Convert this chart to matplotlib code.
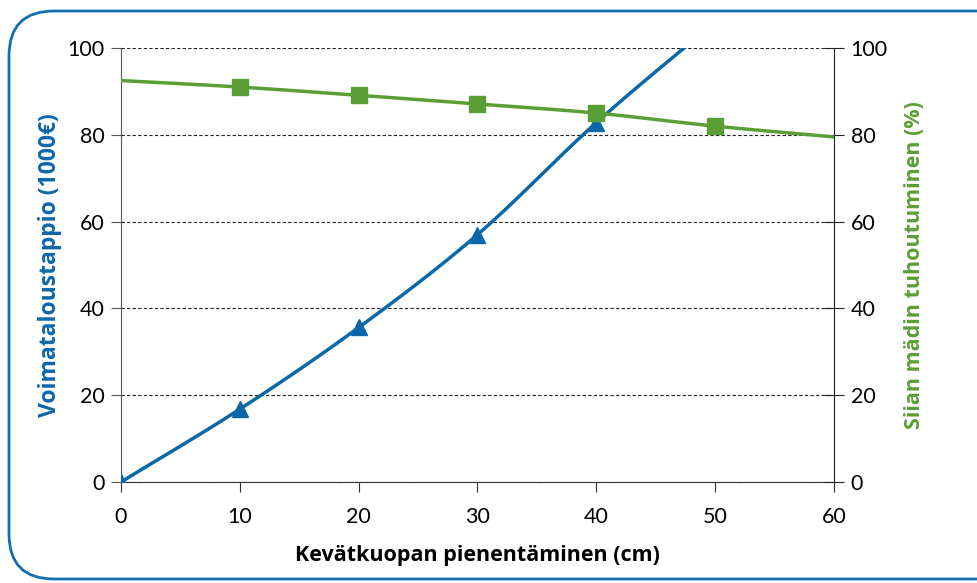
import numpy as np
import matplotlib
matplotlib.use("Agg")
import matplotlib.pyplot as plt
from matplotlib.patches import FancyBboxPatch

plt.rcParams["font.family"] = ["Lato", "DejaVu Sans"]

# Loss in hydropower (1000 EUR) by reduction of the spring drawdown
loss_x = [0, 10, 20, 30, 40, 50]
loss_y = [0, 16.8, 35.6, 57.0, 82.8, 106.0]

# Destruction of whitefish roe (%)
roe_x = [0, 10, 20, 30, 40, 50, 60]
roe_y = [92.5, 91.0, 89.1, 87.1, 85.0, 82.0, 79.5]
roe_marker_x = [10, 20, 30, 40, 50]
roe_marker_y = [91.0, 89.1, 87.1, 85.0, 82.0]

x_ticks = [0, 10, 20, 30, 40, 50, 60]
y_ticks = [0, 20, 40, 60, 80, 100]

BLUE = "#0b67a8"
GREEN = "#5a9f35"
LABEL_FONT = ["Open Sans", "DejaVu Sans"]


def smooth(xs, ys, n=20):
    # Catmull-Rom curve through the points
    xs = np.asarray(xs, float)
    ys = np.asarray(ys, float)
    px = np.concatenate([[2 * xs[0] - xs[1]], xs, [2 * xs[-1] - xs[-2]]])
    py = np.concatenate([[2 * ys[0] - ys[1]], ys, [2 * ys[-1] - ys[-2]]])
    t = np.linspace(0, 1, n, endpoint=False)
    out_x, out_y = [], []
    for i in range(1, len(px) - 2):
        for p, out in ((px, out_x), (py, out_y)):
            p0, p1, p2, p3 = p[i - 1], p[i], p[i + 1], p[i + 2]
            out.extend(0.5 * (2 * p1 + (-p0 + p2) * t
                              + (2 * p0 - 5 * p1 + 4 * p2 - p3) * t ** 2
                              + (-p0 + 3 * p1 - 3 * p2 + p3) * t ** 3))
    out_x.append(xs[-1])
    out_y.append(ys[-1])
    return np.array(out_x), np.array(out_y)


fig = plt.figure(figsize=(9.78, 5.83), dpi=100)

# background layer in pixel units for the rounded frame
bg = fig.add_axes([0, 0, 1, 1], zorder=-1)
bg.set_xlim(0, 978)
bg.set_ylim(583, 0)
bg.axis("off")
bg.add_patch(FancyBboxPatch((9, 11), 1020, 568, boxstyle="round,pad=0,rounding_size=45",
                            fill=False, edgecolor="#1270b0", linewidth=2.0, clip_on=True))

ax = fig.add_axes([121 / 978, 1 - 482 / 583, 713 / 978, 434 / 583])
ax2 = ax.twinx()

sx, sy = smooth(loss_x, loss_y)
ax.plot(sx, sy, color=BLUE, linewidth=2.5, zorder=3)
ax.plot(loss_x, loss_y, linestyle="none", marker="^", markersize=11,
        color=BLUE, zorder=4, clip_on=True)

gx, gy = smooth(roe_x, roe_y)
ax2.plot(gx, gy, color=GREEN, linewidth=2.5, zorder=3)
ax2.plot(roe_marker_x, roe_marker_y, linestyle="none", marker="s", markersize=11,
         color=GREEN, zorder=4)

for a in (ax, ax2):
    a.set_xlim(0, 60)
    a.set_ylim(0, 100)
    a.set_yticks(y_ticks)
    a.spines["top"].set_visible(False)
    a.patch.set_visible(False)

ax.set_xticks(x_ticks)
ax.yaxis.grid(True, linestyle=(0, (3, 2)), color="#222222", linewidth=0.8)
ax.set_axisbelow(True)

ax.spines["left"].set_color("#555555")
ax.spines["bottom"].set_color("#333333")
ax.spines["right"].set_visible(False)
ax2.spines["left"].set_visible(False)
ax2.spines["bottom"].set_visible(False)
ax2.spines["right"].set_color("#222222")

ax.tick_params(axis="y", direction="out", length=7, color="#555555",
               labelsize=15.5, pad=5)
ax.tick_params(axis="x", direction="out", length=7, color="#333333",
               labelsize=15.5, pad=11)
ax2.tick_params(axis="y", direction="inout", length=14, color="#222222",
                labelsize=15.5, pad=5)

ax.set_xlabel("Kevätkuopan pienentäminen (cm)", fontsize=15.5, family=LABEL_FONT,
              fontweight="bold", labelpad=13)
ax.set_ylabel("Voimataloustappio (1000€)", fontsize=16.5, family=LABEL_FONT,
              fontweight="bold", color=BLUE, labelpad=4)
ax2.set_ylabel("Siian mädin tuhoutuminen (%)", fontsize=15.5, family=LABEL_FONT,
               fontweight="bold", color=GREEN, labelpad=12)

fig.savefig("out.png", dpi=100)
